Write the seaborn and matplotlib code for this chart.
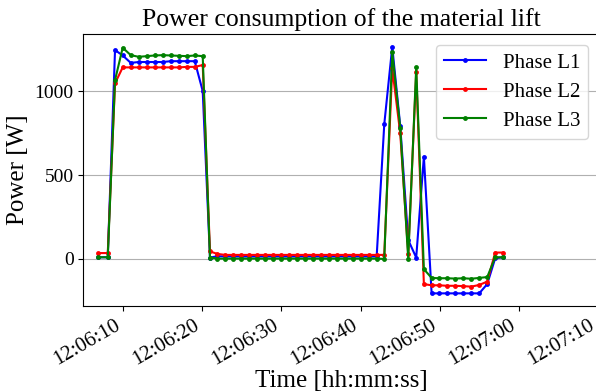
import pandas as pd
import seaborn as sns
import matplotlib.pyplot as plt
import matplotlib.dates as mdates

# sample times (12:06:xx)
times = [
    "12:06:06.84", "12:06:08.03", "12:06:08.95", "12:06:09.92", "12:06:10.94",
    "12:06:11.95", "12:06:12.96", "12:06:13.97", "12:06:14.98", "12:06:15.99",
    "12:06:17.00", "12:06:18.02", "12:06:19.03", "12:06:20.04", "12:06:20.96",
    "12:06:21.88", "12:06:22.90", "12:06:23.91", "12:06:24.92", "12:06:25.93",
    "12:06:26.94", "12:06:27.95", "12:06:28.96", "12:06:29.97", "12:06:30.99",
    "12:06:32.00", "12:06:33.01", "12:06:34.02", "12:06:35.03", "12:06:36.04",
    "12:06:37.05", "12:06:38.07", "12:06:39.08", "12:06:40.09", "12:06:41.10",
    "12:06:42.04", "12:06:43.00", "12:06:44.01", "12:06:45.02", "12:06:46.03",
    "12:06:47.04", "12:06:48.01", "12:06:48.99", "12:06:49.95", "12:06:50.96",
    "12:06:51.97", "12:06:52.98", "12:06:53.99", "12:06:55.01", "12:06:56.02",
    "12:06:57.03", "12:06:58.04",
]

phase_l1 = [
    10, 10, 1244, 1212, 1168, 1173, 1173, 1173, 1173, 1178, 1178, 1178, 1178, 1000,
    8, 16, 15, 15, 15, 15, 15, 15, 15, 15, 15, 15, 15, 15, 15, 15, 15, 15, 15, 15, 15, 15,
    802, 1264, 792, 113, 8, 609, -205, -205, -205, -205, -205, -205, -205, -150, 4, 10,
]
phase_l2 = [
    35, 35, 1046, 1141, 1141, 1141, 1141, 1141, 1141, 1141, 1141, 1144, 1144, 1155,
    45, 30, 24, 24, 24, 24, 24, 24, 24, 24, 24, 24, 24, 24, 24, 24, 24, 24, 24, 24, 24, 24,
    24, 1135, 748, 28, 1111, -150, -157, -157, -160, -160, -162, -165, -155, -135, 38, 38,
]
phase_l3 = [
    10, 10, 1065, 1258, 1214, 1204, 1208, 1212, 1214, 1212, 1210, 1208, 1212, 1208,
    8, 2, 2, 2, 2, 2, 2, 2, 2, 2, 2, 2, 2, 2, 2, 2, 2, 2, 2, 2, 2, 2,
    0, 1230, 782, 2, 1141, -61, -113, -115, -115, -117, -115, -118, -113, -108, 10, 10,
]

labels = ["Phase L1", "Phase L2", "Phase L3"]
colors = {"Phase L1": "blue", "Phase L2": "red", "Phase L3": "green"}

t = pd.to_datetime(["2024-01-01 " + s for s in times])
df = pd.concat([
    pd.DataFrame({"time": t, "power": vals, "phase": name})
    for name, vals in zip(labels, [phase_l1, phase_l2, phase_l3])
])

plt.rcParams["font.family"] = ["Liberation Serif", "DejaVu Serif"]

fig = plt.figure(figsize=(5.96, 3.92), dpi=100)
ax = fig.add_axes([0.1398, 0.2202, 0.865, 0.692])

sns.lineplot(data=df, x="time", y="power", hue="phase", palette=colors,
             marker="o", markersize=3.5, markeredgewidth=0, linewidth=1.5,
             ax=ax)

ax.set_xlim(pd.Timestamp("2024-01-01 12:06:04.94"), pd.Timestamp("2024-01-01 12:07:10.14"))
ax.xaxis.set_major_locator(mdates.SecondLocator(bysecond=range(0, 60, 10)))
ax.xaxis.set_major_formatter(mdates.DateFormatter("%H:%M:%S"))
plt.setp(ax.get_xticklabels(), rotation=30, ha="right")

ax.set_yticks([0, 500, 1000])
ax.grid(axis="y", color="#b0b0b0", linewidth=0.8)
ax.tick_params(axis="y", labelsize=14)
ax.tick_params(axis="x", labelsize=15)

ax.set_title("Power consumption of the material lift", fontsize=18.5)
ax.set_xlabel("Time [hh:mm:ss]", fontsize=18, labelpad=1)
ax.set_ylabel("Power [W]", fontsize=18)
ax.legend(loc="upper right", fontsize=15, labelspacing=0.45)

fig.savefig("out.png", dpi=100)
